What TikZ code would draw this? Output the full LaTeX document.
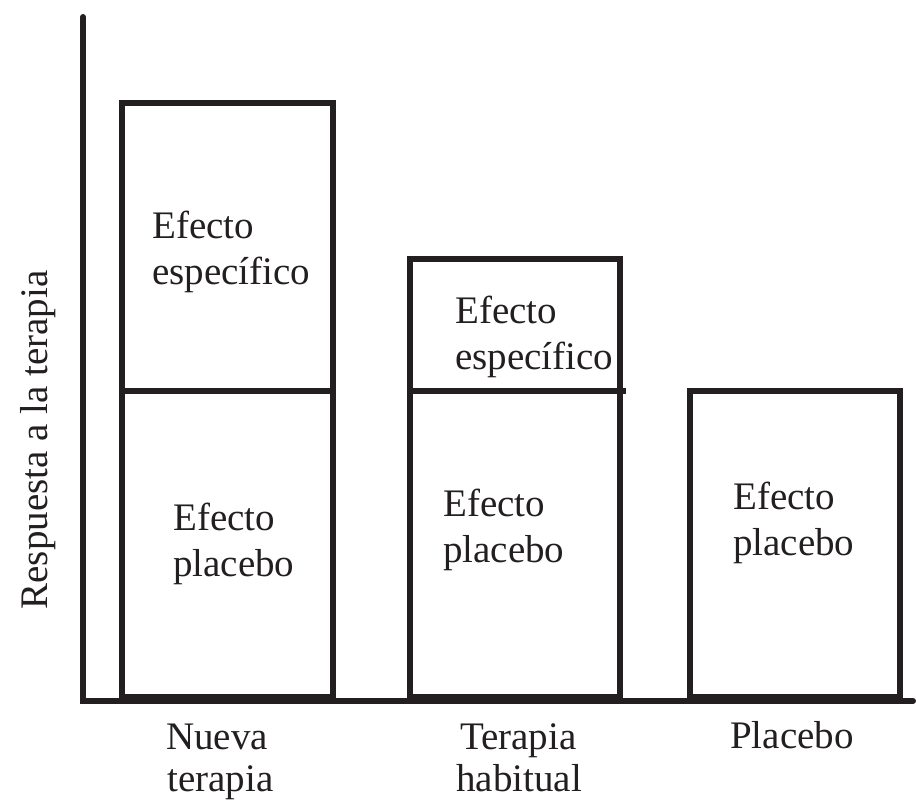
\documentclass[tikz,border=0pt]{standalone}
\usepackage{fontspec}
\setmainfont{Liberation Serif}
\definecolor{ink}{HTML}{231F20}
\begin{document}
\begin{tikzpicture}[x=1pt,y=-1pt,
  bar/.style={draw=ink, line width=6pt},
  axis/.style={draw=ink, line width=6pt, line cap=round},
  lbl/.style={anchor=base west, inner sep=0pt, text=ink, font=\fontsize{39}{46}\selectfont},
  ylbl/.style={anchor=base, inner sep=0pt, text=ink, rotate=90, font=\fontsize{39}{46}\selectfont}]
\useasboundingbox (0,0) rectangle (916,800);
% axes
\coordinate (ytop) at (83,17);
\coordinate (orig) at (83,701);
\coordinate (xend) at (913,701);
\draw[axis] (ytop) -- (orig) -- (xend);
% bar 1
\coordinate (b1a) at (122,697);
\coordinate (b1b) at (333,103);
\draw[bar] (b1a) rectangle (b1b);
\coordinate (d1a) at (122,391);
\coordinate (d1b) at (333,391);
\draw[bar] (d1a) -- (d1b);
% bar 2
\coordinate (b2a) at (410,697);
\coordinate (b2b) at (620,259);
\draw[bar] (b2a) rectangle (b2b);
\coordinate (d2a) at (410,391);
\coordinate (d2b) at (626,391);
\draw[bar] (d2a) -- (d2b);
% bar 3
\coordinate (b3a) at (690,697);
\coordinate (b3b) at (900,391);
\draw[bar] (b3a) rectangle (b3b);
% texts in bars
\node[lbl] (t1a) at (152,238) {Efecto};
\node[lbl] (t1b) at (152,284) {específico};
\node[lbl] (t2a) at (173,530) {Efecto};
\node[lbl] (t2b) at (173,576) {placebo};
\node[lbl] (t3a) at (455,323) {Efecto};
\node[lbl] (t3b) at (455,369) {específico};
\node[lbl] (t4a) at (443,516) {Efecto};
\node[lbl] (t4b) at (443,562) {placebo};
\node[lbl] (t5a) at (733,509) {Efecto};
\node[lbl] (t5b) at (733,555) {placebo};
% category labels
\node[lbl] (c1a) at (166,749) {Nueva};
\node[lbl] (c1b) at (167,791) {terapia};
\node[lbl] (c2a) at (460,749) {Terapia};
\node[lbl] (c2b) at (456,791) {habitual};
\node[lbl] (c3) at (730,748) {Placebo};
% y axis label
\node[ylbl] (yl) at (47,440) {Respuesta a la terapia};
\end{tikzpicture}
\end{document}
